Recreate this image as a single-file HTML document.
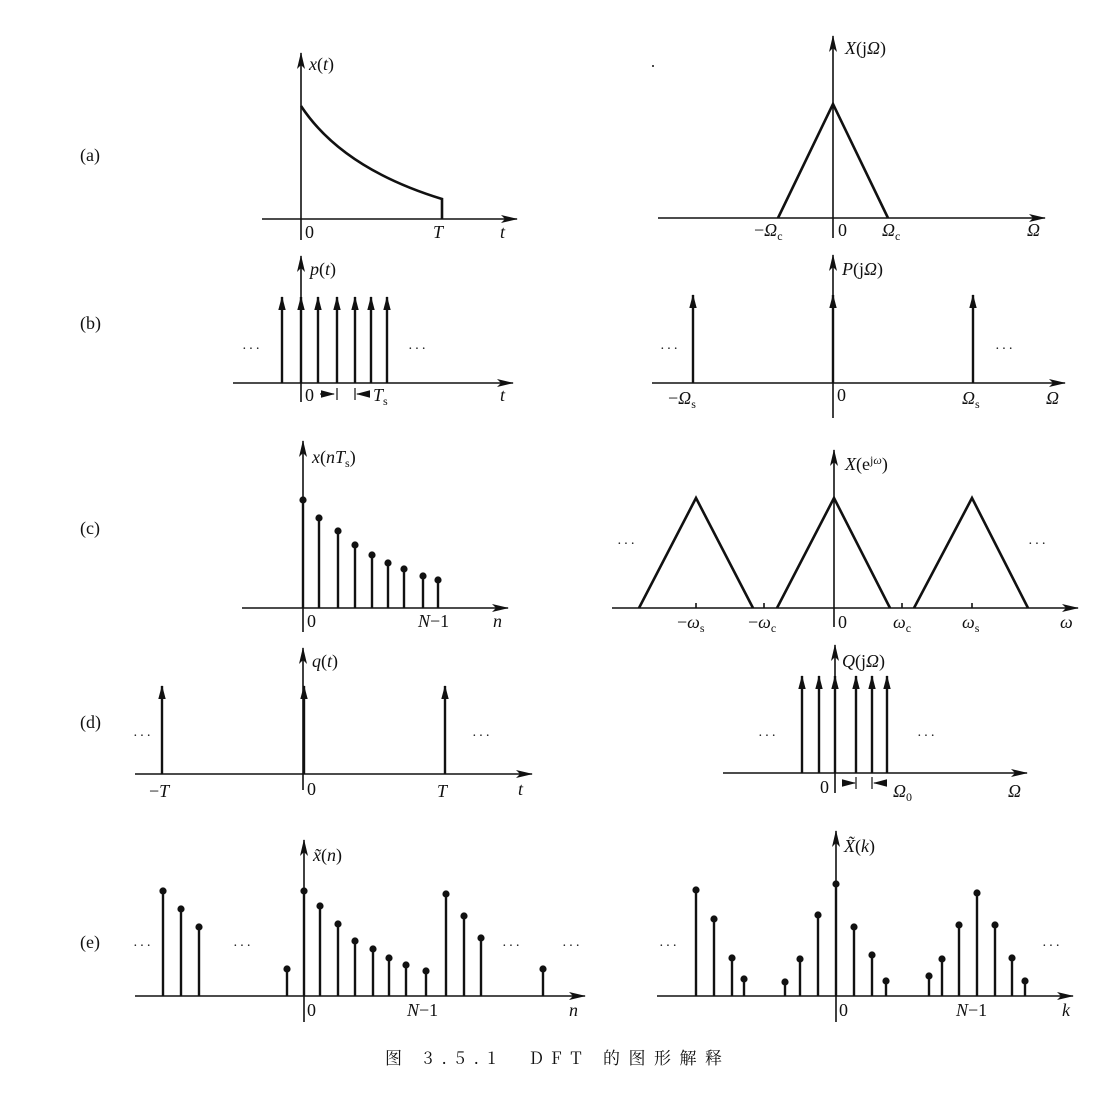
<!DOCTYPE html>
<html><head><meta charset="utf-8"><style>
html,body{margin:0;padding:0;background:#fff;}
svg{display:block;}
text{font-family:"Liberation Serif","Noto Serif CJK SC",serif;font-size:18px;fill:#111;}
.i{font-style:italic;}
.s{font-size:12px;}
.d{font-size:14px;letter-spacing:2px;}
</style></head><body>
<svg width="1120" height="1095" viewBox="0 0 1120 1095" xmlns="http://www.w3.org/2000/svg">
<defs>
<marker id="ax" markerUnits="userSpaceOnUse" markerWidth="18" markerHeight="10" refX="16" refY="5" orient="auto"><path d="M0,1 L17,5 L0,9 L4,5 Z" fill="#111"/></marker>
<marker id="im" markerUnits="userSpaceOnUse" markerWidth="14" markerHeight="10" refX="13" refY="5" orient="auto"><path d="M0,1.3 L14,5 L0,8.7 Z" fill="#111"/></marker>
</defs>
<g stroke="#111" stroke-width="1.6" fill="none">
<line x1="262" y1="219" x2="517" y2="219" marker-end="url(#ax)"/>
<line x1="301" y1="240" x2="301" y2="53" marker-end="url(#ax)"/>
<path d="M301,106 C330,150 380,180 442,199 L442,219" stroke-width="2.6"/>
<line x1="658" y1="218" x2="1045" y2="218" marker-end="url(#ax)"/>
<line x1="833" y1="238" x2="833" y2="36" marker-end="url(#ax)"/>
<path d="M778,218 L833,104 L888,218" stroke-width="2.6"/>
<line x1="233" y1="383" x2="513" y2="383" marker-end="url(#ax)"/>
<line x1="301" y1="402" x2="301" y2="256" marker-end="url(#ax)"/>
<g stroke-width="2.4">
<line x1="282" y1="383" x2="282" y2="297" marker-end="url(#im)"/>
<line x1="301" y1="383" x2="301" y2="297" marker-end="url(#im)"/>
<line x1="318" y1="383" x2="318" y2="297" marker-end="url(#im)"/>
<line x1="337" y1="383" x2="337" y2="297" marker-end="url(#im)"/>
<line x1="355" y1="383" x2="355" y2="297" marker-end="url(#im)"/>
<line x1="371" y1="383" x2="371" y2="297" marker-end="url(#im)"/>
<line x1="387" y1="383" x2="387" y2="297" marker-end="url(#im)"/>
</g>
<line x1="320" y1="394" x2="334" y2="394" stroke-width="1.2" marker-end="url(#im)"/>
<line x1="337" y1="388" x2="337" y2="400" stroke-width="1.2"/>
<line x1="370" y1="394" x2="357" y2="394" stroke-width="1.2" marker-end="url(#im)"/>
<line x1="355" y1="388" x2="355" y2="400" stroke-width="1.2"/>
<line x1="652" y1="383" x2="1065" y2="383" marker-end="url(#ax)"/>
<line x1="833" y1="418" x2="833" y2="255" marker-end="url(#ax)"/>
<g stroke-width="2.4">
<line x1="693" y1="383" x2="693" y2="295" marker-end="url(#im)"/>
<line x1="833" y1="383" x2="833" y2="295" marker-end="url(#im)"/>
<line x1="973" y1="383" x2="973" y2="295" marker-end="url(#im)"/>
</g>
<line x1="242" y1="608" x2="508" y2="608" marker-end="url(#ax)"/>
<line x1="303" y1="632" x2="303" y2="441" marker-end="url(#ax)"/>
<g stroke-width="2.4">
<line x1="303" y1="608" x2="303" y2="500"/><line x1="319" y1="608" x2="319" y2="518"/><line x1="338" y1="608" x2="338" y2="531"/><line x1="355" y1="608" x2="355" y2="545"/><line x1="372" y1="608" x2="372" y2="555"/><line x1="388" y1="608" x2="388" y2="563"/><line x1="404" y1="608" x2="404" y2="569"/><line x1="423" y1="608" x2="423" y2="576"/><line x1="438" y1="608" x2="438" y2="580"/>
</g>
<line x1="612" y1="608" x2="1078" y2="608" marker-end="url(#ax)"/>
<line x1="834" y1="627" x2="834" y2="450" marker-end="url(#ax)"/>
<g stroke-width="2.6">
<path d="M639,608 L696,498 L753,608"/>
<path d="M777,608 L834,498 L890,608"/>
<path d="M914,608 L972,498 L1028,608"/>
</g>
<line x1="696" y1="603" x2="696" y2="608"/><line x1="764" y1="603" x2="764" y2="608"/><line x1="902" y1="603" x2="902" y2="608"/><line x1="972" y1="603" x2="972" y2="608"/>
<line x1="135" y1="774" x2="532" y2="774" marker-end="url(#ax)"/>
<line x1="303" y1="790" x2="303" y2="648" marker-end="url(#ax)"/>
<g stroke-width="2.4">
<line x1="162" y1="774" x2="162" y2="686" marker-end="url(#im)"/>
<line x1="304" y1="774" x2="304" y2="686" marker-end="url(#im)"/>
<line x1="445" y1="774" x2="445" y2="686" marker-end="url(#im)"/>
</g>
<line x1="723" y1="773" x2="1027" y2="773" marker-end="url(#ax)"/>
<line x1="835" y1="793" x2="835" y2="645" marker-end="url(#ax)"/>
<g stroke-width="2.4">
<line x1="802" y1="773" x2="802" y2="676" marker-end="url(#im)"/>
<line x1="819" y1="773" x2="819" y2="676" marker-end="url(#im)"/>
<line x1="835" y1="773" x2="835" y2="676" marker-end="url(#im)"/>
<line x1="856" y1="773" x2="856" y2="676" marker-end="url(#im)"/>
<line x1="872" y1="773" x2="872" y2="676" marker-end="url(#im)"/>
<line x1="887" y1="773" x2="887" y2="676" marker-end="url(#im)"/>
</g>
<line x1="843" y1="783" x2="855" y2="783" stroke-width="1.2" marker-end="url(#im)"/>
<line x1="856" y1="777" x2="856" y2="789" stroke-width="1.2"/>
<line x1="886" y1="783" x2="874" y2="783" stroke-width="1.2" marker-end="url(#im)"/>
<line x1="872" y1="777" x2="872" y2="789" stroke-width="1.2"/>
<line x1="135" y1="996" x2="585" y2="996" marker-end="url(#ax)"/>
<line x1="304" y1="1022" x2="304" y2="840" marker-end="url(#ax)"/>
<g stroke-width="2.4">
<line x1="163" y1="996" x2="163" y2="891"/><line x1="181" y1="996" x2="181" y2="909"/><line x1="199" y1="996" x2="199" y2="927"/><line x1="287" y1="996" x2="287" y2="969"/><line x1="304" y1="996" x2="304" y2="891"/><line x1="320" y1="996" x2="320" y2="906"/><line x1="338" y1="996" x2="338" y2="924"/><line x1="355" y1="996" x2="355" y2="941"/><line x1="373" y1="996" x2="373" y2="949"/><line x1="389" y1="996" x2="389" y2="958"/><line x1="406" y1="996" x2="406" y2="965"/><line x1="426" y1="996" x2="426" y2="971"/><line x1="446" y1="996" x2="446" y2="894"/><line x1="464" y1="996" x2="464" y2="916"/><line x1="481" y1="996" x2="481" y2="938"/><line x1="543" y1="996" x2="543" y2="969"/>
</g>
<line x1="657" y1="996" x2="1073" y2="996" marker-end="url(#ax)"/>
<line x1="836" y1="1022" x2="836" y2="831" marker-end="url(#ax)"/>
<g stroke-width="2.4">
<line x1="696" y1="996" x2="696" y2="890"/><line x1="714" y1="996" x2="714" y2="919"/><line x1="732" y1="996" x2="732" y2="958"/><line x1="744" y1="996" x2="744" y2="979"/><line x1="785" y1="996" x2="785" y2="982"/><line x1="800" y1="996" x2="800" y2="959"/><line x1="818" y1="996" x2="818" y2="915"/><line x1="836" y1="996" x2="836" y2="884"/><line x1="854" y1="996" x2="854" y2="927"/><line x1="872" y1="996" x2="872" y2="955"/><line x1="886" y1="996" x2="886" y2="981"/><line x1="929" y1="996" x2="929" y2="976"/><line x1="942" y1="996" x2="942" y2="959"/><line x1="959" y1="996" x2="959" y2="925"/><line x1="977" y1="996" x2="977" y2="893"/><line x1="995" y1="996" x2="995" y2="925"/><line x1="1012" y1="996" x2="1012" y2="958"/><line x1="1025" y1="996" x2="1025" y2="981"/>
</g>
</g>
<g fill="#111">
<circle cx="303" cy="500" r="3.6"/><circle cx="319" cy="518" r="3.6"/><circle cx="338" cy="531" r="3.6"/><circle cx="355" cy="545" r="3.6"/><circle cx="372" cy="555" r="3.6"/><circle cx="388" cy="563" r="3.6"/><circle cx="404" cy="569" r="3.6"/><circle cx="423" cy="576" r="3.6"/><circle cx="438" cy="580" r="3.6"/>
<circle cx="163" cy="891" r="3.6"/><circle cx="181" cy="909" r="3.6"/><circle cx="199" cy="927" r="3.6"/><circle cx="287" cy="969" r="3.6"/><circle cx="304" cy="891" r="3.6"/><circle cx="320" cy="906" r="3.6"/><circle cx="338" cy="924" r="3.6"/><circle cx="355" cy="941" r="3.6"/><circle cx="373" cy="949" r="3.6"/><circle cx="389" cy="958" r="3.6"/><circle cx="406" cy="965" r="3.6"/><circle cx="426" cy="971" r="3.6"/><circle cx="446" cy="894" r="3.6"/><circle cx="464" cy="916" r="3.6"/><circle cx="481" cy="938" r="3.6"/><circle cx="543" cy="969" r="3.6"/>
<circle cx="696" cy="890" r="3.6"/><circle cx="714" cy="919" r="3.6"/><circle cx="732" cy="958" r="3.6"/><circle cx="744" cy="979" r="3.6"/><circle cx="785" cy="982" r="3.6"/><circle cx="800" cy="959" r="3.6"/><circle cx="818" cy="915" r="3.6"/><circle cx="836" cy="884" r="3.6"/><circle cx="854" cy="927" r="3.6"/><circle cx="872" cy="955" r="3.6"/><circle cx="886" cy="981" r="3.6"/><circle cx="929" cy="976" r="3.6"/><circle cx="942" cy="959" r="3.6"/><circle cx="959" cy="925" r="3.6"/><circle cx="977" cy="893" r="3.6"/><circle cx="995" cy="925" r="3.6"/><circle cx="1012" cy="958" r="3.6"/><circle cx="1025" cy="981" r="3.6"/>
<circle cx="653" cy="66" r="1"/>
</g>
<text x="80" y="161">(a)</text>
<text x="80" y="329">(b)</text>
<text x="80" y="534">(c)</text>
<text x="80" y="728">(d)</text>
<text x="80" y="948">(e)</text>
<text x="309" y="70"><tspan class="i">x</tspan>(<tspan class="i">t</tspan>)</text>
<text x="305" y="238">0</text>
<text x="433" y="238" class="i">T</text>
<text x="500" y="238" class="i">t</text>
<text x="845" y="54"><tspan class="i">X</tspan>(j<tspan class="i">Ω</tspan>)</text>
<text x="754" y="236">−<tspan class="i">Ω</tspan><tspan class="s" dy="4">c</tspan></text>
<text x="838" y="236">0</text>
<text x="882" y="236" class="i">Ω<tspan class="s" style="font-style:normal" dy="4">c</tspan></text>
<text x="1027" y="236" class="i">Ω</text>
<text x="310" y="275"><tspan class="i">p</tspan>(<tspan class="i">t</tspan>)</text>
<text x="305" y="401">0</text>
<text x="373" y="401" class="i">T<tspan class="s" style="font-style:normal" dy="4">s</tspan></text>
<text x="500" y="401" class="i">t</text>
<text x="242" y="353" class="d">···</text>
<text x="408" y="353" class="d">···</text>
<text x="842" y="275"><tspan class="i">P</tspan>(j<tspan class="i">Ω</tspan>)</text>
<text x="668" y="404">−<tspan class="i">Ω</tspan><tspan class="s" dy="4">s</tspan></text>
<text x="837" y="401">0</text>
<text x="962" y="404" class="i">Ω<tspan class="s" style="font-style:normal" dy="4">s</tspan></text>
<text x="1046" y="404" class="i">Ω</text>
<text x="660" y="353" class="d">···</text>
<text x="995" y="353" class="d">···</text>
<text x="312" y="463"><tspan class="i">x</tspan>(<tspan class="i">nT</tspan><tspan class="s" dy="4">s</tspan><tspan dy="-4">)</tspan></text>
<text x="307" y="627">0</text>
<text x="418" y="627"><tspan class="i">N</tspan>−1</text>
<text x="493" y="627" class="i">n</text>
<text x="845" y="470"><tspan class="i">X</tspan>(e<tspan class="s" dy="-6">j<tspan class="i">ω</tspan></tspan><tspan dy="6">)</tspan></text>
<text x="677" y="628">−<tspan class="i">ω</tspan><tspan class="s" dy="4">s</tspan></text>
<text x="748" y="628">−<tspan class="i">ω</tspan><tspan class="s" dy="4">c</tspan></text>
<text x="838" y="628">0</text>
<text x="893" y="628" class="i">ω<tspan class="s" style="font-style:normal" dy="4">c</tspan></text>
<text x="962" y="628" class="i">ω<tspan class="s" style="font-style:normal" dy="4">s</tspan></text>
<text x="1060" y="628" class="i">ω</text>
<text x="617" y="548" class="d">···</text>
<text x="1028" y="548" class="d">···</text>
<text x="312" y="667"><tspan class="i">q</tspan>(<tspan class="i">t</tspan>)</text>
<text x="149" y="797">−<tspan class="i">T</tspan></text>
<text x="307" y="795">0</text>
<text x="437" y="797" class="i">T</text>
<text x="518" y="795" class="i">t</text>
<text x="133" y="740" class="d">···</text>
<text x="472" y="740" class="d">···</text>
<text x="842" y="667"><tspan class="i">Q</tspan>(j<tspan class="i">Ω</tspan>)</text>
<text x="820" y="793">0</text>
<text x="893" y="797" class="i">Ω<tspan class="s" style="font-style:normal" dy="4">0</tspan></text>
<text x="1008" y="797" class="i">Ω</text>
<text x="758" y="740" class="d">···</text>
<text x="917" y="740" class="d">···</text>
<text x="313" y="861"><tspan class="i">x̃</tspan>(<tspan class="i">n</tspan>)</text>
<text x="307" y="1016">0</text>
<text x="407" y="1016"><tspan class="i">N</tspan>−1</text>
<text x="569" y="1016" class="i">n</text>
<text x="133" y="950" class="d">···</text>
<text x="233" y="950" class="d">···</text>
<text x="502" y="950" class="d">···</text>
<text x="562" y="950" class="d">···</text>
<text x="844" y="852"><tspan class="i">X̃</tspan>(<tspan class="i">k</tspan>)</text>
<text x="839" y="1016">0</text>
<text x="956" y="1016"><tspan class="i">N</tspan>−1</text>
<text x="1062" y="1016" class="i">k</text>
<text x="659" y="950" class="d">···</text>
<text x="1042" y="950" class="d">···</text>
<text x="385" y="1064" textLength="337" lengthAdjust="spacing" style="font-family:'Noto Serif CJK SC','Liberation Serif',serif;font-size:17px">图 3.5.1&#160;&#160;DFT 的图形解释</text>
</svg>
</body></html>
